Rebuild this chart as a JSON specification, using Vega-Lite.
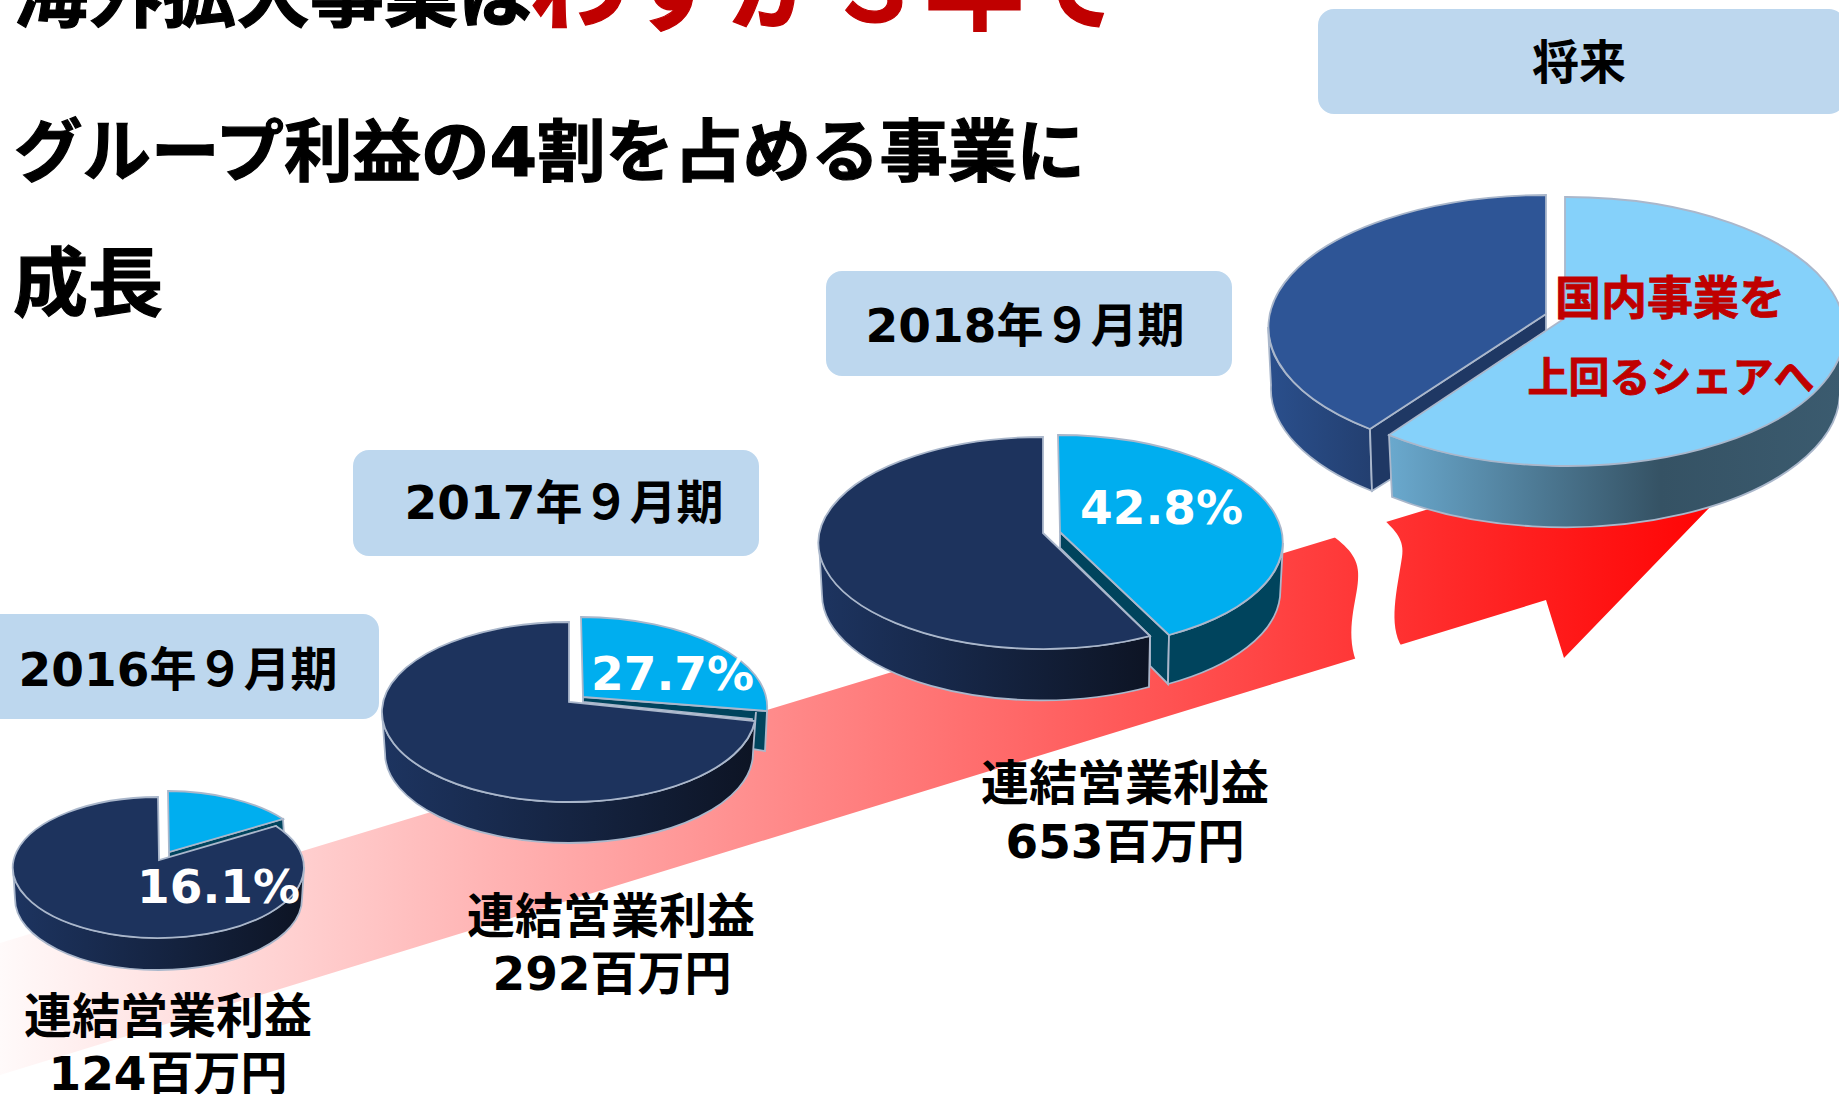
{
"$schema":"https://vega.github.io/schema/vega-lite/v6.json",
"width":1839,"height":1094,"autosize":"none","padding":0,"background":"#ffffff",
"config":{"view":{"stroke":null}},
"encoding":{
 "x":{"field":"x","type":"quantitative","axis":null,"scale":{"domain":[0,1839],"nice":false,"zero":false}},
 "y":{"field":"y","type":"quantitative","axis":null,"scale":{"domain":[0,1094],"nice":false,"zero":false,"reverse":true}}
},
"layer":[
{
 "encoding":{"shape":{"field":"piece","type":"nominal","legend":null,"scale":{
  "domain":["arrow","break","p1top","p1side","p1light","p1teal","p2top","p2side","p2light","p2teal","p3top","p3side","p3light","p3tealside","p3tealcut","p4top","p4side","p4cut","p4light","p4lightside"],
  "range":[
   "M-1546,343 L54,-143 L194,-124 L18,58 L0,0 L-1546,475 Z",
   "M-213,-64 C-196,-51 -186,-40 -188,-20 C-189,0 -201,30 -190,61 L-144,47 C-158,25 -149,-10 -144,-43 C-141,-60 -151,-70 -163,-81 Z",
   "M-1,-63 A145.5,70.5 0 1 0 117,-34 L0,0 Z",
   "M-146,7 A145.5,70.5 0 0 0 145,7 L143,39 A143.5,71 0 0 1 -144,39 Z",
   "M9,-69 A145.5,70.5 0 0 1 124,-41 L10,-8 Z",
   "M10,-8 L124,-41 L125,-25 L117,-34 L10,0 Z",
   "M0,-80 A187,90 0 1 0 186,19 L0,0 Z",
   "M-187,10 A187,90 0 0 0 187,10 L184,51 A184,90 0 0 1 -184,51 Z",
   "M12,-85 A187,90 0 0 1 198,9 L14,-5 Z",
   "M14,-5 L198,9 L196,49 L183,47 L183,17 L14,0 Z",
   "M0,-96 A224,106 0 1 0 107,103 L0,0 Z",
   "M-224,10 A224,106 0 0 0 107,103 L106,154 A220,106 0 0 1 -221,62 Z",
   "M15,-98 A225,107 0 0 1 126,102 L17,-1 Z",
   "M126,102 A225,107 0 0 0 240,10 L237,64 A222,107 0 0 1 125,151 Z",
   "M17,-1 L126,102 L125,151 L107,133 L107,103 L17,15 Z",
   "M0,-119 A278,132 0 0 0 -176,115 L0,0 Z",
   "M-278,13 A278,132 0 0 0 -176,115 L-174,177 A275,132 0 0 1 -275,71 Z",
   "M0,0 L-176,115 L-174,177 L-155,165 L-155,121 L0,17 Z",
   "M19,-117 A278,134.5 0 1 1 -157,121 L19,4 Z",
   "M-157,121 A278,134.5 0 0 0 297,17.5 L294,78 A275,136 0 0 1 -154,183 Z"
  ]}}},
 "layer":[
  {"data":{"values":[{"piece":"arrow","x":1546,"y":600}]},
   "mark":{"type":"point","filled":true,"size":4,"opacity":1,"strokeWidth":0,"fill":{"gradient":"linear","x1":0,"y1":0,"x2":1,"y2":0,"stops":[{"offset":0,"color":"#fffafa"},{"offset":1,"color":"#ff0000"}]}}},
  {"data":{"values":[{"piece":"break","x":1546,"y":600}]},
   "mark":{"type":"point","filled":true,"size":4,"opacity":1,"strokeWidth":0,"fill":"#ffffff"}},
  {"data":{"values":[{"period":"将来","segment":"国内","piece":"p4side","x":1546,"y":314}]},
   "mark":{"type":"point","filled":true,"size":4,"opacity":1,"stroke":"#aab7cb","strokeWidth":1.8,"fill":{"gradient":"linear","x1":0,"y1":0,"x2":1,"y2":0,"stops":[{"offset":0,"color":"#2a4f8c"},{"offset":1,"color":"#233f70"}]}}},
  {"data":{"values":[{"period":"将来","segment":"国内","piece":"p4cut","x":1546,"y":314}]},
   "mark":{"type":"point","filled":true,"size":4,"opacity":1,"stroke":"#aab7cb","strokeWidth":1.8,"fill":"#1f3864"}},
  {"data":{"values":[{"period":"将来","segment":"国内","piece":"p4top","x":1546,"y":314}]},
   "mark":{"type":"point","filled":true,"size":4,"opacity":1,"stroke":"#aab7cb","strokeWidth":1.8,"fill":"#2e5596"}},
  {"data":{"values":[{"period":"将来","segment":"海外","piece":"p4lightside","x":1546,"y":314}]},
   "mark":{"type":"point","filled":true,"size":4,"opacity":1,"stroke":"#aab7cb","strokeWidth":1.8,"fill":{"gradient":"linear","x1":0,"y1":0,"x2":1,"y2":0,"stops":[{"offset":0,"color":"#6aa9ce"},{"offset":0.6,"color":"#355264"},{"offset":1,"color":"#3b5b6f"}]}}},
  {"data":{"values":[{"period":"将来","segment":"海外","piece":"p4light","x":1546,"y":314}]},
   "mark":{"type":"point","filled":true,"size":4,"opacity":1,"stroke":"#aab7cb","strokeWidth":1.8,"fill":"#85d1fa"}},
  {"data":{"values":[
    {"period":"2016年9月期","segment":"海外","piece":"p1teal","x":159,"y":860},
    {"period":"2017年9月期","segment":"海外","piece":"p2teal","x":569,"y":702},
    {"period":"2018年9月期","segment":"海外","piece":"p3tealcut","x":1043,"y":533},
    {"period":"2018年9月期","segment":"海外","piece":"p3tealside","x":1043,"y":533}]},
   "mark":{"type":"point","filled":true,"size":4,"opacity":1,"stroke":"#aab7cb","strokeWidth":1.8,"fill":"#00445d"}},
  {"data":{"values":[
    {"period":"2016年9月期","segment":"海外","share":16.1,"piece":"p1light","x":159,"y":860},
    {"period":"2017年9月期","segment":"海外","share":27.7,"piece":"p2light","x":569,"y":702},
    {"period":"2018年9月期","segment":"海外","share":42.8,"piece":"p3light","x":1043,"y":533}]},
   "mark":{"type":"point","filled":true,"size":4,"opacity":1,"stroke":"#aab7cb","strokeWidth":1.8,"fill":"#00aeef"}},
  {"data":{"values":[
    {"period":"2016年9月期","segment":"国内","piece":"p1side","x":159,"y":860},
    {"period":"2017年9月期","segment":"国内","piece":"p2side","x":569,"y":702},
    {"period":"2018年9月期","segment":"国内","piece":"p3side","x":1043,"y":533}]},
   "mark":{"type":"point","filled":true,"size":4,"opacity":1,"stroke":"#aab7cb","strokeWidth":1.8,"fill":{"gradient":"linear","x1":0,"y1":0,"x2":1,"y2":0,"stops":[{"offset":0,"color":"#1d3460"},{"offset":1,"color":"#0d1424"}]}}},
  {"data":{"values":[
    {"period":"2016年9月期","segment":"国内","share":83.9,"piece":"p1top","x":159,"y":860},
    {"period":"2017年9月期","segment":"国内","share":72.3,"piece":"p2top","x":569,"y":702},
    {"period":"2018年9月期","segment":"国内","share":57.2,"piece":"p3top","x":1043,"y":533}]},
   "mark":{"type":"point","filled":true,"size":4,"opacity":1,"stroke":"#aab7cb","strokeWidth":1.8,"fill":"#1d335d"}}
 ]
},
{"data":{"values":[
  {"period":"2016年9月期","x":-27,"x2":379,"y":614,"y2":719},
  {"period":"2017年9月期","x":353,"x2":759,"y":450,"y2":556},
  {"period":"2018年9月期","x":826,"x2":1232,"y":271,"y2":376},
  {"period":"将来","x":1318,"x2":1845,"y":9,"y2":114}]},
 "mark":{"type":"rect","fill":"#bdd7ee","cornerRadius":16},
 "encoding":{"x2":{"field":"x2"},"y2":{"field":"y2"}}},
{"data":{"values":[
  {"t":"2016年９月期","x":178,"y":686},
  {"t":"2017年９月期","x":564,"y":519},
  {"t":"2018年９月期","x":1025,"y":342},
  {"t":"将来","x":1579,"y":79},
  {"t":"124百万円","x":168,"y":1090},
  {"t":"292百万円","x":612,"y":990},
  {"t":"653百万円","x":1125,"y":858}]},
 "mark":{"type":"text","font":"DejaVu Sans, Noto Sans CJK JP","fontWeight":"bold","fontSize":47,"align":"center","baseline":"alphabetic","fill":"#000000"},
 "encoding":{"text":{"field":"t"}}},
{"data":{"values":[
  {"t":"連結営業利益","x":168,"y":1033},
  {"t":"連結営業利益","x":611,"y":933},
  {"t":"連結営業利益","x":1125,"y":800}]},
 "mark":{"type":"text","font":"Noto Sans CJK JP","fontWeight":"bold","fontSize":48,"align":"center","baseline":"alphabetic","fill":"#000000"},
 "encoding":{"text":{"field":"t"}}},
{"data":{"values":[
  {"t":"16.1%","x":137,"y":903},
  {"t":"27.7%","x":591,"y":690},
  {"t":"42.8%","x":1080,"y":524}]},
 "mark":{"type":"text","font":"DejaVu Sans, Noto Sans CJK JP","fontWeight":"bold","fontSize":47,"align":"left","baseline":"alphabetic","fill":"#ffffff"},
 "encoding":{"text":{"field":"t"}}},
{"data":{"values":[{"t":"国内事業を","x":1670,"y":314}]},
 "mark":{"type":"text","font":"Noto Sans CJK JP","fontWeight":"bold","fontSize":46,"align":"center","baseline":"alphabetic","fill":"#c00000","stroke":"#c00000","strokeWidth":0.8},
 "encoding":{"text":{"field":"t"}}},
{"data":{"values":[{"t":"上回るシェアへ","x":1671,"y":392}]},
 "mark":{"type":"text","font":"Noto Sans CJK JP","fontWeight":"bold","fontSize":41,"align":"center","baseline":"alphabetic","fill":"#c00000","stroke":"#c00000","strokeWidth":0.8},
 "encoding":{"text":{"field":"t"}}},
{"data":{"values":[{"t":"海外拡大事業は","x":14,"y":21}]},
 "mark":{"type":"text","font":"Noto Sans CJK JP","fontWeight":"bold","fontSize":74,"align":"left","baseline":"alphabetic","fill":"#000000","stroke":"#000000","strokeWidth":1.2},
 "encoding":{"text":{"field":"t"}}},
{"data":{"values":[{"t":"成長","x":13,"y":310}]},
 "mark":{"type":"text","font":"Noto Sans CJK JP","fontWeight":"bold","fontSize":75,"align":"left","baseline":"alphabetic","fill":"#000000","stroke":"#000000","strokeWidth":1.2},
 "encoding":{"text":{"field":"t"}}},
{"data":{"values":[{"t":"グループ利益の4割を占める事業に","x":14,"y":176}]},
 "mark":{"type":"text","font":"DejaVu Sans, Noto Sans CJK JP","fontWeight":"bold","fontSize":68.5,"align":"left","baseline":"alphabetic","fill":"#000000","stroke":"#000000","strokeWidth":1.2},
 "encoding":{"text":{"field":"t"}}},
{"data":{"values":[{"t":"わずか３年で","x":529,"y":22}]},
 "mark":{"type":"text","font":"Noto Sans CJK JP","fontWeight":"bold","fontSize":99,"align":"left","baseline":"alphabetic","fill":"#c00000","stroke":"#c00000","strokeWidth":1.2},
 "encoding":{"text":{"field":"t"}}}
]
}
